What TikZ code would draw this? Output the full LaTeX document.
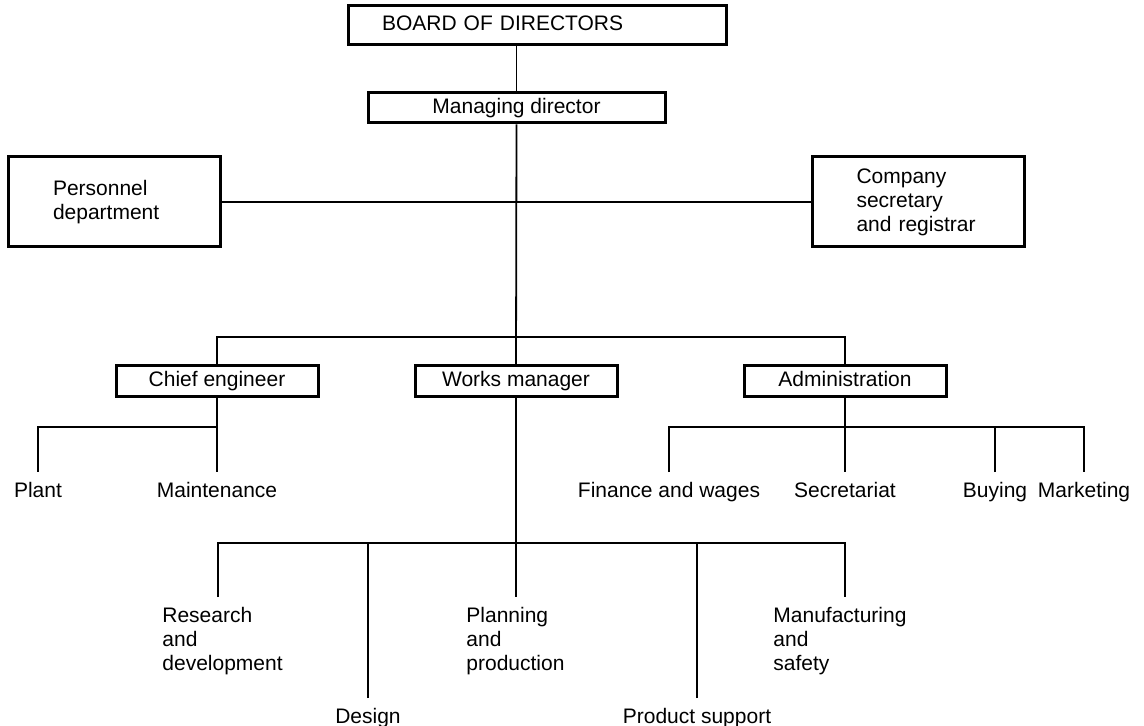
\documentclass[tikz,border=0pt]{standalone}
\usepackage{fontspec}
\setmainfont{Liberation Sans}
\usetikzlibrary{positioning,calc}

\begin{document}
\begin{tikzpicture}[
  x=0.5pt, y=-0.5pt,
  font=\fontsize{10.5}{12}\selectfont,
  box/.style={draw, line width=1.5pt, inner sep=0pt, align=center,
              text height=7.6pt, text depth=2.2pt,
              minimum width=101pt, minimum height=15.5pt},
  wide/.style={draw, line width=1.5pt, align=left, minimum width=106pt,
               minimum height=45pt},
  leaf/.style={inner sep=0pt, align=center},
  leafl/.style={inner sep=0pt, align=left, anchor=north west},
  link/.style={line width=0.9pt}
]
\useasboundingbox (0,0) rectangle (1144,726);

% ---------------- top of the chart ----------------
\node[box, minimum width=189pt, minimum height=19.5pt, text width=155pt,
      inner xsep=17pt, align=left] (board) at (537,25.5) {BOARD OF DIRECTORS};
\node[box, minimum width=148.5pt, minimum height=15pt] (md) at (516.5,108)
  {Managing director};

% ---------------- staff boxes ----------------
\node[wide, text width=61pt, inner xsep=22.5pt] (pers) at (114,202)
  {Personnel\\department};
\node[wide, text width=62pt, inner xsep=22pt] (comp) at (918.5,202)
  {Company\\secretary\\and registrar};

% ---------------- middle row ----------------
\node[box] (chief) at (217,381.5) {Chief engineer};
\node[box] (works) at (516,381) {Works manager};
\node[box] (admin) at (845,381) {Administration};

% ---------------- bars and line ends ----------------
\coordinate (topbar) at (516,337);
\coordinate (chiefbar) at (217,427);
\coordinate (adminbar) at (845,427);
\coordinate (worksbar) at (516,543);

\coordinate (plantT) at (38,472);
\coordinate (maintT) at (217,472);
\coordinate (finT) at (669,472);
\coordinate (secT) at (845,472);
\coordinate (buyT) at (995,472);
\coordinate (mktT) at (1084,472);

\coordinate (rndT) at (218,597);
\coordinate (desT) at (368,698);
\coordinate (planT) at (516,597);
\coordinate (prodT) at (697,698);
\coordinate (manT) at (845,597);

% ---------------- leaves ----------------
\node[leaf, below=5pt of plantT] (plant) {Plant};
\node[leaf, below=5pt of maintT] (maint) {Maintenance};
\node[leaf, below=5pt of finT] (fin) {Finance and wages};
\node[leaf, below=5pt of secT] (sec) {Secretariat};
\node[leaf, below=5pt of buyT] (buy) {Buying};
\node[leaf, below=5pt of mktT] (mkt) {Marketing};

\node[leafl] (rnd) at ($(rndT)+(-56,10)$) {Research\\and\\development};
\node[leaf, below=5pt of desT] (des) {Design};
\node[leafl] (plan) at ($(planT)+(-50,10)$) {Planning\\and\\production};
\node[leaf, below=5pt of prodT] (prod) {Product support};
\node[leafl] (manuf) at ($(manT)+(-72,10)$) {Manufacturing\\and\\safety};

% ---------------- lines ----------------
\draw[link] (md.north) -- (md.north |- board.south);
\draw[link] (md.south) -- (works.north);
\draw[link] (pers.east) -- (comp.west);
\draw[link] (chief.north) -- (chief.north |- topbar) -- (admin.north |- topbar)
  -- (admin.north);

\draw[link] (chief.south) -- (maintT);
\draw[link] (chiefbar) -| (plantT);

\draw[link] (admin.south) -- (secT);
\draw[link] (finT) |- (adminbar) -| (mktT);
\draw[link] (buyT) -- (buyT |- adminbar);

\draw[link] (works.south) -- (planT);
\draw[link] (rndT) |- (worksbar) -| (manT);
\draw[link] (desT) -- (desT |- worksbar);
\draw[link] (prodT) -- (prodT |- worksbar);

\end{tikzpicture}
\end{document}
